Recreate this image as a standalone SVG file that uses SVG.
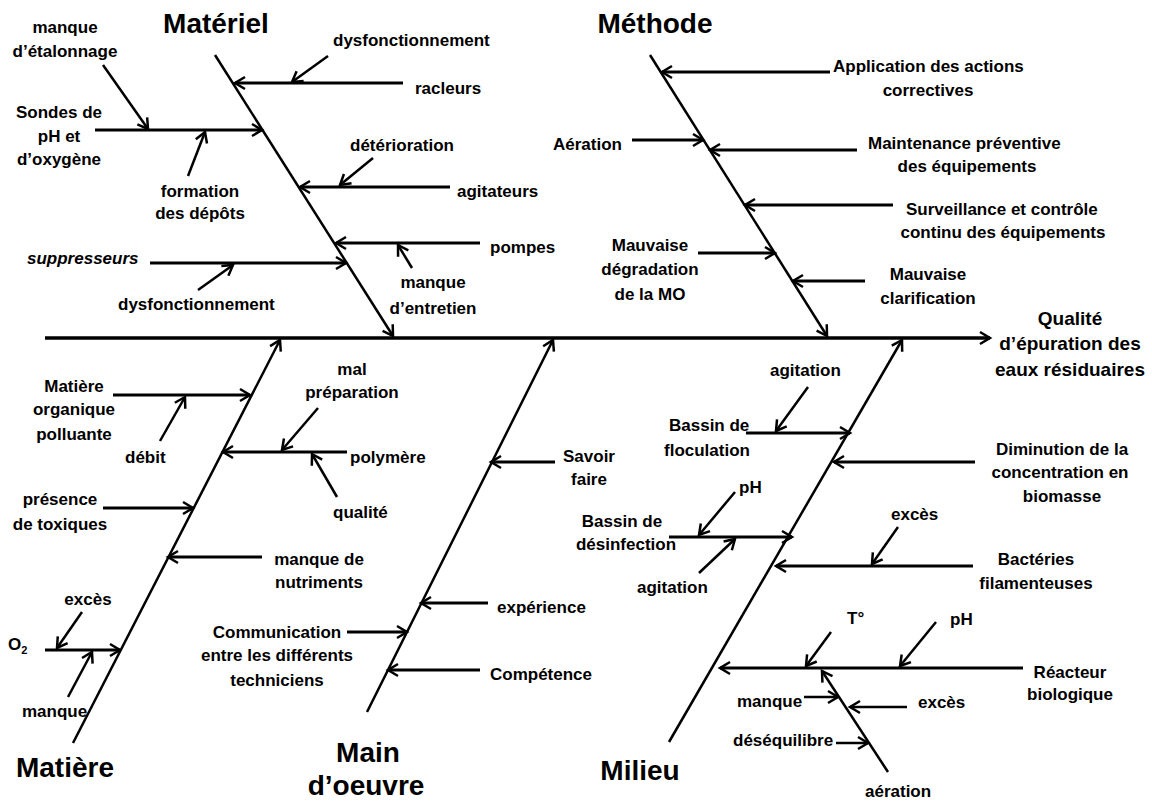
<svg xmlns="http://www.w3.org/2000/svg" width="1152" height="801" viewBox="0 0 1152 801">
<style>
text{font-family:"Liberation Sans",Arial,sans-serif;font-weight:bold;font-size:17px;fill:#000}
.title{font-size:28px}
.eff{font-size:19px}
.m{text-anchor:middle}
.it{font-style:italic}
.spine{stroke:#000;stroke-width:3.5;fill:none;marker-end:url(#ah)}
.bone{stroke:#000;stroke-width:2.5;fill:none;marker-end:url(#ah)}
.br{stroke:#000;stroke-width:3;fill:none;marker-end:url(#ah)}
.sm{stroke:#000;stroke-width:2.5;fill:none;marker-end:url(#ah)}
</style>
<defs>
<marker id="ah" markerUnits="userSpaceOnUse" markerWidth="16" markerHeight="16" refX="11" refY="7" orient="auto" overflow="visible">
<path d="M1,1 L11,7 L1,13" stroke="#000" stroke-width="2.5" fill="none" stroke-linejoin="miter"/>
</marker>
</defs>
<rect width="1152" height="801" fill="#fff"/>
<g id="connectors">
<line class="spine" x1="45" y1="338" x2="990" y2="338"/>
<line class="bone" x1="215" y1="55" x2="393" y2="336"/>
<line class="bone" x1="650" y1="55" x2="827" y2="336"/>
<line class="bone" x1="73" y1="743" x2="280" y2="340"/>
<line class="bone" x1="367" y1="712" x2="553" y2="340"/>
<line class="bone" x1="669" y1="742" x2="902" y2="340"/>
<line class="bone" x1="888" y1="772" x2="822" y2="671"/>
<line class="br" x1="403" y1="83" x2="235" y2="83"/>
<line class="br" x1="95" y1="130" x2="262" y2="130"/>
<line class="br" x1="450" y1="187" x2="300" y2="187"/>
<line class="br" x1="480" y1="243" x2="336" y2="243"/>
<line class="br" x1="150" y1="263" x2="346" y2="263"/>
<line class="br" x1="830" y1="72" x2="662" y2="72"/>
<line class="br" x1="632" y1="140" x2="703" y2="140"/>
<line class="br" x1="857" y1="150" x2="710" y2="150"/>
<line class="br" x1="893" y1="205" x2="745" y2="205"/>
<line class="br" x1="698" y1="253" x2="775" y2="253"/>
<line class="br" x1="865" y1="281" x2="793" y2="281"/>
<line class="br" x1="113" y1="395" x2="250" y2="395"/>
<line class="br" x1="347" y1="452" x2="223" y2="452"/>
<line class="br" x1="103" y1="508" x2="193" y2="508"/>
<line class="br" x1="262" y1="557" x2="168" y2="557"/>
<line class="br" x1="45" y1="650" x2="120" y2="650"/>
<line class="br" x1="555" y1="462" x2="491" y2="462"/>
<line class="br" x1="488" y1="603" x2="421" y2="603"/>
<line class="br" x1="347" y1="632" x2="407" y2="632"/>
<line class="br" x1="480" y1="670" x2="388" y2="670"/>
<line class="br" x1="746" y1="433" x2="850" y2="433"/>
<line class="br" x1="975" y1="462" x2="834" y2="462"/>
<line class="br" x1="669" y1="537" x2="792" y2="537"/>
<line class="br" x1="973" y1="566" x2="776" y2="566"/>
<line class="br" x1="1023" y1="668" x2="720" y2="668"/>
<line class="sm" x1="804" y1="697" x2="838" y2="697"/>
<line class="sm" x1="907" y1="707" x2="850" y2="707"/>
<line class="sm" x1="836" y1="743" x2="868" y2="743"/>
<line class="sm" x1="328" y1="56" x2="292" y2="82"/>
<line class="sm" x1="103" y1="65" x2="148" y2="129"/>
<line class="sm" x1="188" y1="176" x2="205" y2="132"/>
<line class="sm" x1="373" y1="158" x2="340" y2="185"/>
<line class="sm" x1="412" y1="268" x2="398" y2="245"/>
<line class="sm" x1="198" y1="290" x2="233" y2="265"/>
<line class="sm" x1="160" y1="441" x2="185" y2="397"/>
<line class="sm" x1="318" y1="408" x2="282" y2="450"/>
<line class="sm" x1="337" y1="497" x2="312" y2="454"/>
<line class="sm" x1="82" y1="612" x2="57" y2="648"/>
<line class="sm" x1="68" y1="697" x2="92" y2="652"/>
<line class="sm" x1="808" y1="387" x2="776" y2="431"/>
<line class="sm" x1="735" y1="492" x2="699" y2="535"/>
<line class="sm" x1="699" y1="573" x2="735" y2="539"/>
<line class="sm" x1="898" y1="527" x2="872" y2="564"/>
<line class="sm" x1="831" y1="632" x2="806" y2="666"/>
<line class="sm" x1="936" y1="622" x2="900" y2="666"/>
</g>
<g id="effect">
<text class="eff m" x="1070" y="325">Qualité</text>
<text class="eff m" x="1070" y="350">d’épuration des</text>
<text class="eff m" x="1070" y="376">eaux résiduaires</text>
</g>
<g id="materiel">
<text class="title m" x="216" y="33">Matériel</text>
<text class="m" x="65" y="33">manque</text>
<text class="m" x="65" y="57">d’étalonnage</text>
<text class="m" x="59" y="118">Sondes de</text>
<text class="m" x="59" y="142">pH et</text>
<text class="m" x="59" y="165">d’oxygène</text>
<text class="m" x="200" y="197">formation</text>
<text class="m" x="200" y="219">des dépôts</text>
<text x="333" y="46">dysfonctionnement</text>
<text x="415" y="94">racleurs</text>
<text x="350" y="151">détérioration</text>
<text x="457" y="197">agitateurs</text>
<text x="490" y="253">pompes</text>
<text class="m" x="433" y="288">manque</text>
<text class="m" x="433" y="314">d’entretien</text>
<text class="it" x="27" y="264">suppresseurs</text>
<text x="118" y="310">dysfonctionnement</text>
</g>
<g id="methode">
<text class="title m" x="655" y="33">Méthode</text>
<text x="833" y="72">Application des actions</text>
<text class="m" x="928" y="96">correctives</text>
<text x="553" y="150">Aération</text>
<text x="868" y="149">Maintenance préventive</text>
<text class="m" x="967" y="172">des équipements</text>
<text x="906" y="215">Surveillance et contrôle</text>
<text class="m" x="1003" y="238">continu des équipements</text>
<text class="m" x="650" y="251">Mauvaise</text>
<text class="m" x="650" y="275">dégradation</text>
<text class="m" x="650" y="300">de la MO</text>
<text class="m" x="928" y="280">Mauvaise</text>
<text class="m" x="928" y="304">clarification</text>
</g>
<g id="matiere">
<text class="title m" x="65" y="777">Matière</text>
<text class="m" x="74" y="392">Matière</text>
<text class="m" x="74" y="415">organique</text>
<text class="m" x="74" y="440">polluante</text>
<text x="125" y="463">débit</text>
<text class="m" x="352" y="375">mal</text>
<text class="m" x="352" y="398">préparation</text>
<text x="350" y="463">polymère</text>
<text x="333" y="518">qualité</text>
<text class="m" x="60" y="505">présence</text>
<text class="m" x="60" y="530">de toxiques</text>
<text class="m" x="319" y="565">manque de</text>
<text class="m" x="319" y="588">nutriments</text>
<text class="m" x="88" y="605">excès</text>
<text x="8" y="650">O<tspan font-size="11" dy="4">2</tspan></text>
<text x="22" y="717">manque</text>
</g>
<g id="main-oeuvre">
<text class="title m" x="368" y="762">Main</text>
<text class="title m" x="366" y="795">d’oeuvre</text>
<text x="563" y="462">Savoir</text>
<text class="m" x="589" y="485">faire</text>
<text x="497" y="613">expérience</text>
<text class="m" x="277" y="638">Communication</text>
<text class="m" x="277" y="661">entre les différents</text>
<text class="m" x="277" y="686">techniciens</text>
<text x="490" y="680">Compétence</text>
</g>
<g id="milieu">
<text class="title m" x="640" y="780">Milieu</text>
<text x="770" y="376">agitation</text>
<text x="669" y="431">Bassin de</text>
<text x="664" y="456">floculation</text>
<text class="m" x="1062" y="455">Diminution  de la</text>
<text class="m" x="1060" y="478">concentration  en</text>
<text class="m" x="1062" y="502">biomasse</text>
<text x="739" y="493">pH</text>
<text class="m" x="622" y="527">Bassin de</text>
<text class="m" x="626" y="550">désinfection</text>
<text x="637" y="593">agitation</text>
<text x="891" y="520">excès</text>
<text class="m" x="1036" y="565">Bactéries</text>
<text class="m" x="1036" y="589">filamenteuses</text>
<text x="847" y="624">T°</text>
<text x="950" y="625">pH</text>
<text class="m" x="1070" y="678">Réacteur</text>
<text class="m" x="1070" y="700">biologique</text>
<text x="737" y="707">manque</text>
<text x="918" y="708">excès</text>
<text x="733" y="746">déséquilibre</text>
<text x="865" y="797">aération</text>
</g>
</svg>
